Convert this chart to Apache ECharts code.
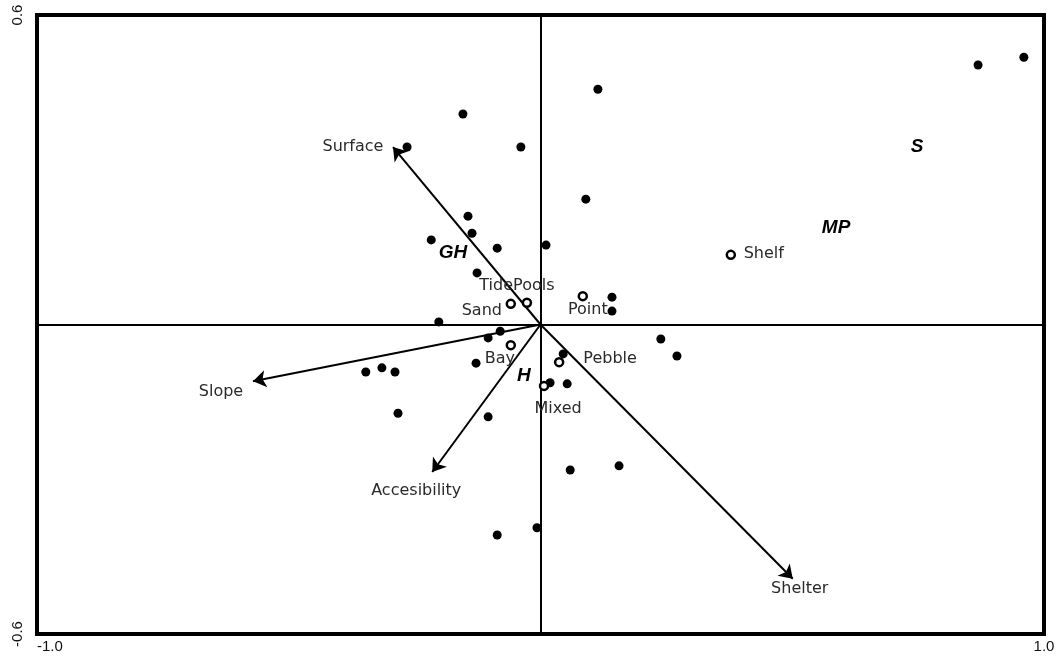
<!DOCTYPE html>
<html>
<head>
<meta charset="utf-8">
<script src="https://cdn.jsdelivr.net/npm/echarts@6/dist/echarts.min.js"></script>
<style>
  html, body {margin: 0; padding: 0; background: #fff;}
  #chart {width: 1059px; height: 657px;}
</style>
</head>
<body>
<div id="chart"></div>
<script>
// sample scores (filled dots)
const siteX = [0.960, 0.869, 0.114, -0.154, -0.265, -0.039, 0.090, -0.144, -0.136, -0.217, -0.086,
    0.011, -0.126, 0.142, 0.142, -0.202, -0.080, -0.104, 0.239, 0.271, 0.045, -0.128, -0.347,
    -0.315, -0.289, 0.019, 0.053, -0.283, -0.104, 0.059, 0.156, -0.007, -0.086];
const siteY = [0.518, 0.503, 0.456, 0.408, 0.344, 0.344, 0.243, 0.210, 0.177, 0.164, 0.148,
    0.154, 0.100, 0.053, 0.026, 0.005, -0.013, -0.026, -0.028, -0.061, -0.057, -0.075, -0.092,
    -0.084, -0.092, -0.113, -0.115, -0.172, -0.179, -0.282, -0.274, -0.394, -0.408];

// nominal variables (open circles)
const nominalNames = ['TidePools', 'Sand', 'Point', 'Shelf', 'Bay', 'Pebble', 'Mixed'];
const nominalX = [-0.027, -0.059, 0.084, 0.378, -0.059, 0.037, 0.007];
const nominalY = [0.042, 0.040, 0.055, 0.135, -0.040, -0.073, -0.119];

// environmental arrows
const arrowNames = ['Surface', 'Slope', 'Accesibility', 'Shelter'];
const arrowX = [-0.293, -0.571, -0.215, 0.501];
const arrowY = [0.344, -0.110, -0.286, -0.493];

// group labels
const groupNames = ['GH', 'H', 'MP', 'S'];
const groupX = [-0.174, -0.033, 0.587, 0.748];
const groupY = [0.139, -0.100, 0.187, 0.344];

// axis extents
const xTicks = [-1.0, 1.0];
const yTicks = [-0.6, 0.6];

// label offsets (px) around points
const labelOffset = {
    Surface: [-40, 0], Slope: [-32, 11], Accesibility: [-16, 19], Shelter: [7, 10],
    TidePools: [-10, -17], Sand: [-29, 7], Point: [5, 14], Shelf: [33, -1],
    Bay: [-11, 14], Pebble: [51, -3], Mixed: [14, 23]
};

const textFont = {
    fontFamily: 'DejaVu Sans',
    fontSize: 16,
    color: '#2a2a2a',
    opacity: 1
};

const tickFormatter = v => (Math.abs(v) < 1e-9 ? '' : v.toFixed(1));

const chart = echarts.init(document.getElementById('chart'));
chart.setOption({
    animation: false,
    grid: {
        left: 37, right: 15, top: 15, bottom: 23,
        show: true,
        borderColor: '#000',
        borderWidth: 4
    },
    xAxis: {
        type: 'value',
        min: xTicks[0],
        max: xTicks[1],
        interval: 1,
        axisLine: {show: false},
        axisTick: {show: false},
        splitLine: {lineStyle: {color: '#000', width: 2}},
        axisLabel: {
            margin: 5,
            fontFamily: 'Liberation Sans',
            fontSize: 15,
            color: '#111',
            alignMinLabel: 'left',
            formatter: tickFormatter
        }
    },
    yAxis: {
        type: 'value',
        min: yTicks[0],
        max: yTicks[1],
        interval: 0.6,
        axisLine: {show: false},
        axisTick: {show: false},
        splitLine: {lineStyle: {color: '#000', width: 2}},
        axisLabel: {
            rotate: 90,
            margin: 12,
            fontFamily: 'Liberation Sans',
            fontSize: 15,
            color: '#111',
            formatter: tickFormatter
        }
    },
    series: [
        {
            type: 'lines',
            coordinateSystem: 'cartesian2d',
            symbol: ['none', 'arrow'],
            symbolSize: 13,
            lineStyle: {color: '#000', width: 2, opacity: 1},
            data: arrowNames.map((n, i) => ({coords: [[0, 0], [arrowX[i], arrowY[i]]]})),
            z: 3
        },
        {
            type: 'scatter',
            symbolSize: 0,
            data: arrowNames.map((n, i) => ({
                name: n,
                value: [arrowX[i], arrowY[i]],
                label: {offset: labelOffset[n]}
            })),
            label: Object.assign({show: true, position: 'inside', formatter: '{b}'}, textFont),
            z: 4
        },
        {
            type: 'scatter',
            symbol: 'circle',
            symbolSize: 9,
            itemStyle: {color: '#000', opacity: 1},
            data: siteX.map((x, i) => [x, siteY[i]]),
            z: 5
        },
        {
            type: 'scatter',
            symbol: 'circle',
            symbolSize: 8,
            itemStyle: {color: '#fff', borderColor: '#000', borderWidth: 2.5, opacity: 1},
            data: nominalNames.map((n, i) => ({
                name: n,
                value: [nominalX[i], nominalY[i]],
                label: {offset: labelOffset[n]}
            })),
            label: Object.assign({show: true, position: 'inside', formatter: '{b}'}, textFont),
            z: 6
        },
        {
            type: 'scatter',
            symbolSize: 0,
            data: groupNames.map((n, i) => ({name: n, value: [groupX[i], groupY[i]]})),
            label: {
                show: true,
                position: 'inside',
                formatter: '{b}',
                fontFamily: 'Liberation Sans',
                fontStyle: 'italic',
                fontWeight: 'bold',
                fontSize: 19,
                color: '#000',
                opacity: 1
            },
            z: 6
        }
    ]
});
</script>
</body>
</html>
